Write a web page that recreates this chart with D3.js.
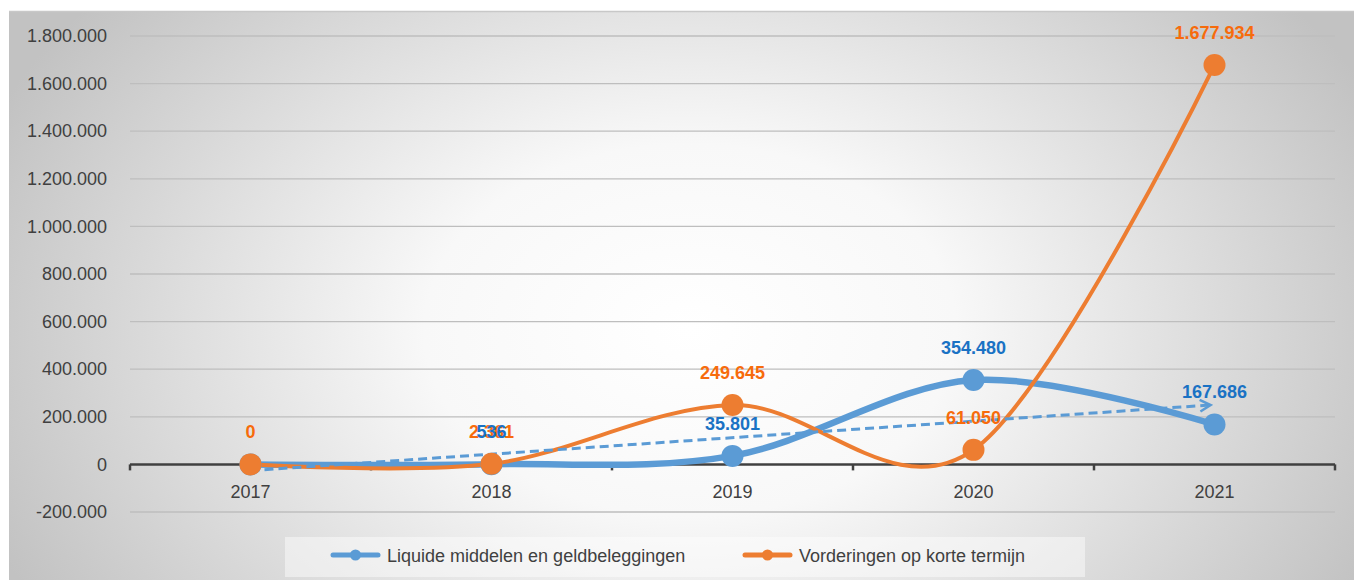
<!DOCTYPE html>
<html>
<head>
<meta charset="utf-8">
<script src="https://cdn.jsdelivr.net/npm/d3@7"></script>
<style>
  html, body { margin: 0; padding: 0; background: #fff; }
  svg { display: block; }
  text { font-family: "Liberation Sans", Arial, sans-serif; }
</style>
</head>
<body>
<svg id="chart" width="1354" height="580"></svg>
<script>
// Data
const years = ["2017", "2018", "2019", "2020", "2021"];
const liquide = [0, 536, 35801, 354480, 167686];
const vorderingen = [0, 2361, 249645, 61050, 1677934];
const seriesNames = ["Liquide middelen en geldbeleggingen", "Vorderingen op korte termijn"];
const yTicks = [-200000, 0, 200000, 400000, 600000, 800000, 1000000, 1200000, 1400000, 1600000, 1800000];

const palette = {
    blue: "#5B9BD5",
    blueLabel: "#1A72C4",
    orange: "#ED7D31",
    orangeLabel: "#F76B0C",
    grid: "#BEBEBE",
    axis: "#404040",
    text: "#404040"
};

const W = 1354, H = 580;
const plot = { left: 130, right: 1335, top: 36, bottom: 512 };

// Dutch number format: 1.677.934, plain hyphen for negatives
const nl = d3.formatLocale({ decimal: ",", thousands: ".", grouping: [3], currency: ["€", ""], minus: "-" });
const fmt = nl.format(",");

const svg = d3.select("#chart");

// -----------------------------
// Background with soft radial gradient
// -----------------------------
const defs = svg.append("defs");
const grad = defs.append("radialGradient")
    .attr("id", "bg")
    .attr("gradientUnits", "userSpaceOnUse")
    .attr("cx", 690).attr("cy", 330).attr("r", 760)
    .attr("gradientTransform", "translate(690,330) scale(1,0.7) translate(-690,-330)");
grad.append("stop").attr("offset", "0%").attr("stop-color", "#ffffff");
grad.append("stop").attr("offset", "35%").attr("stop-color", "#f8f8f8");
grad.append("stop").attr("offset", "100%").attr("stop-color", "#c2c2c2");

// Open arrowhead for the trend line
defs.append("marker")
    .attr("id", "trendArrow")
    .attr("viewBox", "0 -6 12 12")
    .attr("refX", 10).attr("refY", 0)
    .attr("markerWidth", 14).attr("markerHeight", 14)
    .attr("markerUnits", "userSpaceOnUse")
    .attr("orient", "auto")
    .append("path")
    .attr("d", "M1,-5L10,0L1,5")
    .attr("fill", "none")
    .attr("stroke", palette.blue)
    .attr("stroke-width", 2.2);

svg.append("rect")
    .attr("x", 9).attr("y", 11)
    .attr("width", W - 9).attr("height", H - 11)
    .attr("fill", "url(#bg)");
svg.append("line")
    .attr("x1", 9).attr("x2", W).attr("y1", 11.5).attr("y2", 11.5)
    .attr("stroke", "#c8c8c8").attr("stroke-width", 1.5);

// -----------------------------
// Scales
// -----------------------------
const x = d3.scaleBand().domain(years).range([plot.left, plot.right]);
const cx = d => x(d) + x.bandwidth() / 2;
const y = d3.scaleLinear().domain([-200000, 1800000]).range([plot.bottom, plot.top]);

// Gridlines
svg.append("g")
    .selectAll("line")
    .data(yTicks.filter(v => v !== 0))
    .join("line")
    .attr("x1", plot.left).attr("x2", plot.right)
    .attr("y1", d => y(d)).attr("y2", d => y(d))
    .attr("stroke", palette.grid)
    .attr("stroke-width", 1.3);

// Y axis labels (no axis line, just the text)
const yAxis = d3.axisLeft(y).tickValues(yTicks).tickFormat(fmt).tickSize(0).tickPadding(23);
const yG = svg.append("g").attr("transform", `translate(${plot.left},0)`).call(yAxis);
yG.select(".domain").remove();
yG.selectAll("text")
    .attr("font-family", "Liberation Sans, Arial, sans-serif")
    .attr("font-size", 18)
    .attr("fill", palette.text);

// X axis sits on the zero line, ticks at category boundaries
const zeroY = y(0);
svg.append("line")
    .attr("x1", plot.left).attr("x2", plot.right)
    .attr("y1", zeroY).attr("y2", zeroY)
    .attr("stroke", palette.axis).attr("stroke-width", 2.5);
const bounds = years.map(d => x(d)).concat([plot.right]);
svg.append("g")
    .selectAll("line")
    .data(bounds)
    .join("line")
    .attr("x1", d => d).attr("x2", d => d)
    .attr("y1", zeroY).attr("y2", zeroY + 6)
    .attr("stroke", palette.axis).attr("stroke-width", 2.5);
svg.append("g")
    .selectAll("text")
    .data(years)
    .join("text")
    .attr("x", d => cx(d))
    .attr("y", zeroY + 34)
    .attr("text-anchor", "middle")
    .attr("font-size", 18)
    .attr("fill", palette.text)
    .text(d => d);

// -----------------------------
// Series lines (smoothed like Excel)
// -----------------------------
const line = d3.line()
    .x((d, i) => cx(years[i]))
    .y(d => y(d))
    .curve(d3.curveCardinal.tension(0));

svg.append("path")
    .datum(liquide)
    .attr("d", line)
    .attr("fill", "none")
    .attr("stroke", palette.blue)
    .attr("stroke-width", 6.5)
    .attr("stroke-linecap", "round");

svg.append("path")
    .datum(vorderingen)
    .attr("d", line)
    .attr("fill", "none")
    .attr("stroke", palette.orange)
    .attr("stroke-width", 4)
    .attr("stroke-linecap", "round");

// Linear trend of the blue series (least squares)
const xs = years.map((d, i) => i + 1);
const mx = d3.mean(xs), my = d3.mean(liquide);
const slope = d3.sum(xs, (v, i) => (v - mx) * (liquide[i] - my)) / d3.sum(xs, v => (v - mx) ** 2);
const icpt = my - slope * mx;
const trend = [xs[0], xs[xs.length - 1]].map(v => ({ yr: years[v - 1], val: icpt + slope * v }));
svg.append("line")
    .attr("x1", cx(trend[0].yr)).attr("y1", y(trend[0].val))
    .attr("x2", cx(trend[1].yr) - 4).attr("y2", y(trend[1].val))
    .attr("stroke", palette.blue)
    .attr("stroke-width", 3)
    .attr("stroke-dasharray", "9,5")
    .attr("marker-end", "url(#trendArrow)");

// Markers
svg.append("g")
    .selectAll("circle")
    .data(liquide)
    .join("circle")
    .attr("cx", (d, i) => cx(years[i]))
    .attr("cy", d => y(d))
    .attr("r", 11)
    .attr("fill", palette.blue);

svg.append("g")
    .selectAll("circle")
    .data(vorderingen)
    .join("circle")
    .attr("cx", (d, i) => cx(years[i]))
    .attr("cy", d => y(d))
    .attr("r", 11)
    .attr("fill", palette.orange);

// -----------------------------
// Data labels (orange first, blue on top; blue zero is not shown)
// -----------------------------
svg.append("g")
    .selectAll("text")
    .data(vorderingen)
    .join("text")
    .attr("x", (d, i) => cx(years[i]))
    .attr("y", d => y(d) - 26)
    .attr("text-anchor", "middle")
    .attr("font-size", 18)
    .attr("font-weight", "bold")
    .attr("fill", palette.orangeLabel)
    .text(d => fmt(d));

svg.append("g")
    .selectAll("text")
    .data(liquide.map((v, i) => ({ v, i })).filter(d => d.v !== 0))
    .join("text")
    .attr("x", d => cx(years[d.i]))
    .attr("y", d => y(d.v) - 26)
    .attr("text-anchor", "middle")
    .attr("font-size", 18)
    .attr("font-weight", "bold")
    .attr("fill", palette.blueLabel)
    .text(d => fmt(d.v));

// -----------------------------
// Legend
// -----------------------------
const legend = svg.append("g");
legend.append("rect")
    .attr("x", 285).attr("y", 537)
    .attr("width", 800).attr("height", 40)
    .attr("fill", "#ffffff").attr("opacity", 0.45);

const legendItems = [
    { name: seriesNames[0], color: palette.blue, x: 333 },
    { name: seriesNames[1], color: palette.orange, x: 745 }
];
const li = legend.selectAll("g.item")
    .data(legendItems)
    .join("g")
    .attr("class", "item")
    .attr("transform", d => `translate(${d.x},555)`);
li.append("line")
    .attr("x1", 0).attr("x2", 45)
    .attr("stroke", d => d.color)
    .attr("stroke-width", 5)
    .attr("stroke-linecap", "round");
li.append("circle")
    .attr("cx", 22.5).attr("r", 5.5)
    .attr("fill", d => d.color);
li.append("text")
    .attr("x", 54).attr("y", 6.5)
    .attr("font-size", 18)
    .attr("fill", palette.text)
    .text(d => d.name);
</script>
</body>
</html>
